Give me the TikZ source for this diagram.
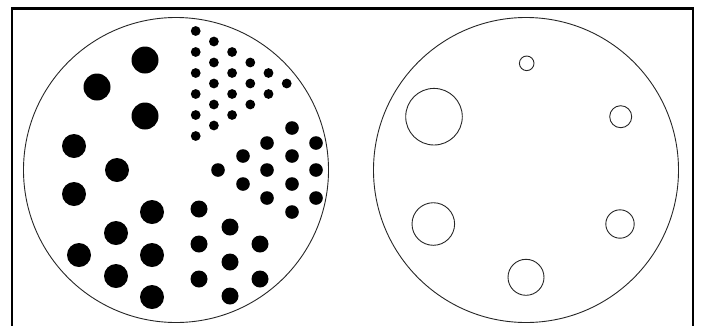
\documentclass[tikz,border=0pt]{standalone}
\begin{document}
\begin{tikzpicture}[x=1pt,y=-1pt,
  frame/.style={draw=black,line width=2.5pt},
  plate/.style={draw=black!85,line width=0.9pt},
  dot/.style={fill=black},
  hole/.style={draw=black!85,line width=0.9pt}]
\useasboundingbox (0,0) rectangle (701,325);
\begin{scope}
\clip (0,0) rectangle (701,325);
\draw[frame] (12,8.3) rectangle (693,340);
\end{scope}
% left plate
\draw[plate] (176,170) circle[radius=152.5];
% large dots
\foreach \x/\y in {145/60,97/87,145/116}
  \fill[dot] (\x,\y) circle[radius=13.5];
% medium-large dots
\foreach \x/\y in {74/146,117/170,74/194,152/212,116/233,79/255,152/255,116/276,152/297}
  \fill[dot] (\x,\y) circle[radius=12];
% medium dots
\foreach \x/\y in {199/209,230/227,199/244,260/244,230/262,199/279,260/279,230/296}
  \fill[dot] (\x,\y) circle[radius=8.5];
% medium-small dots
\foreach \x/\y in {292/128,267/143,316/143,243/156,292/156,218/170,267/170,316/170,243/184,292/184,267/198,316/198,292/212}
  \fill[dot] (\x,\y) circle[radius=6.8];
% small dots (triangle)
\foreach \i/\n in {0/6,1/5,2/4,3/3,4/2,5/1}{
  \foreach \k in {1,...,\n}{
    \fill[dot] ({195.7+18.2*\i},{31+10.5*\i+21*(\k-1)}) circle[radius=4.9];
  }
}
% right plate
\draw[plate] (526,170) circle[radius=152.5];
\draw[hole] (526.7,63.3) circle[radius=7.3];
\draw[hole] (434,116.7) circle[radius=28.3];
\draw[hole] (620.7,116.7) circle[radius=11];
\draw[hole] (433.3,224) circle[radius=21.3];
\draw[hole] (620,224) circle[radius=14.2];
\draw[hole] (526,277.3) circle[radius=18];
\end{tikzpicture}
\end{document}
